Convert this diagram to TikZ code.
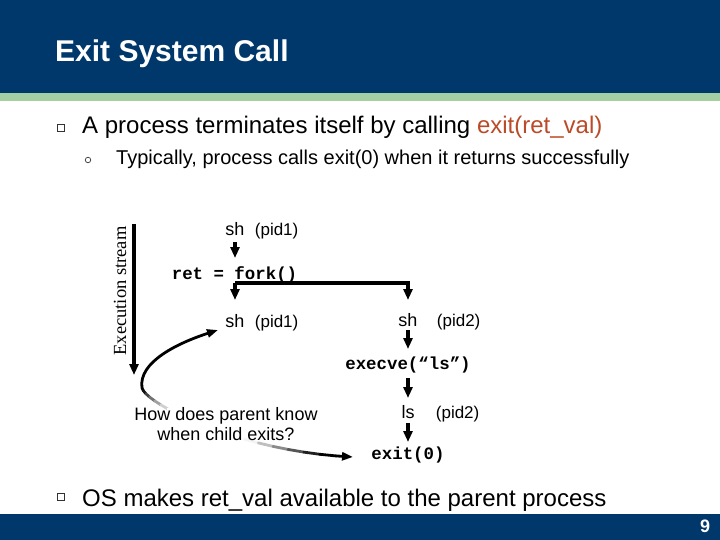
\documentclass[tikz,border=0pt]{standalone}
\usepackage{fontspec}
\setmainfont{Liberation Sans}
\newfontfamily\codefont{Liberation Mono}
\newfontfamily\streamfont{Liberation Serif}
\usepackage{xcolor}
\usepackage{tikz}
\usetikzlibrary{arrows.meta,positioning,calc}
\definecolor{navy}{HTML}{00386B}
\definecolor{mint}{HTML}{A3CFA3}
\definecolor{rust}{HTML}{BB4A28}
\newcommand{\fsz}[1]{\fontsize{#1}{#1}\selectfont}

\begin{document}
\begin{tikzpicture}[x=1pt, y=-1pt, every node/.style={inner sep=0pt},
    flow/.style={line width=3.2pt, -{Triangle[width=9pt,length=11pt]}},
    curvy/.style={line width=2.8pt, line cap=round},
    bulletbox/.style={draw=black!80, line width=0.8pt, minimum size=6.5pt},
    code/.style={font=\codefont\bfseries\fsz{17.4}}]
        \useasboundingbox (0,0) rectangle (720,540);

        % title bar
        \fill[navy] (0,0) rectangle (720,93);
        \fill[mint] (0,93) rectangle (720,101);
        \node[anchor=base west, text=white, font=\fsz{30}\bfseries] (title) at (55,62)
          {Exit System Call};

        % bullets
        \node[bulletbox] (b1) at (61,128) {};
        \node[anchor=base west, font=\fsz{24}] (t1) at (82,134)
          {A process terminates itself by calling \textcolor{rust}{exit(ret\_val)}};
        \node[circle, draw=black!80, line width=0.7pt, minimum size=5.5pt] (b2) at (88,160) {};
        \node[anchor=base west, font=\fsz{20}] (t2) at (116,165)
          {Typically, process calls exit(0) when it returns successfully};
        \node[bulletbox] (b3) at (61,497) {};
        \node[anchor=base west, font=\fsz{24}] (t3) at (82,506)
          {OS makes ret\_val available to the parent process};

        % footer
        \fill[navy] (0,514) rectangle (720,540);
        \node[text=white, font=\fsz{18}\bfseries] (page) at (705,526) {9};

        % execution stream
        \node[rotate=90, font=\streamfont\fsz{18.5}] (stream) at (120,291) {Execution stream};
        \coordinate (streamtop) at (134,224);
        \coordinate (streamend) at (134,375);
        \draw[flow] (streamtop) -- (streamend);

        % parent
        \node[font=\fsz{18}] (sh1) at (235,229.5) {sh};
        \node[anchor=base west, font=\fsz{17}] (pid1a) at ([xshift=10pt]sh1.base east) {(pid1)};
        \node[code] (fork) at (234.5,275) {ret = fork()};
        \coordinate (split) at (235,283);
        \node[font=\fsz{18}] (sh2) at (235,321) {sh};
        \node[anchor=base west, font=\fsz{17}] (pid1b) at ([xshift=10pt]sh2.base east) {(pid1)};

        % child
        \node[font=\fsz{18}] (shc) at (408,320) {sh};
        \node[anchor=base west, font=\fsz{17}] (pid2a) at ([xshift=19pt]shc.base east) {(pid2)};
        \node[code] (execve) at (408,365) {execve(“ls”)};
        \node[font=\fsz{18}] (ls) at (408,412) {ls};
        \node[anchor=base west, font=\fsz{17}] (pid2b) at ([xshift=21pt]ls.base east) {(pid2)};
        \node[code] (exit) at (408,455) {exit(0)};

        \draw[flow, shorten <=12.5pt, shorten >=17pt] (sh1.center) -- (sh1.center |- fork.center);
        \draw[line width=3.2pt] (split) -- (split -| shc.center);
        \draw[flow, shorten >=21pt] (split) -- (sh2.center);
        \draw[flow, shorten >=20pt] (split) -| (shc.center);
        \draw[flow, shorten <=10pt, shorten >=16pt] (shc.center) -- (execve.center);
        \draw[flow, shorten <=13pt, shorten >=14pt] (execve.center) -- (ls.center);
        \draw[flow, shorten <=11pt, shorten >=13pt] (ls.center) -- (exit.center);

        % how does the parent hear of it
        \coordinate (bend) at (142,388);
        \draw[curvy, -{Triangle[width=8pt,length=11pt]}] (bend)
          .. controls (138,362) and (178,343) .. ([shift={(-17,9)}]sh2.center);
        \path (bend) .. controls (146,404) and (240,452) .. ([shift={(-55,2)}]exit.center)
          \foreach \k [evaluate=\k as \p using \k/20] in {0,...,20} {coordinate[pos=\p] (g\k)};
        \foreach \k in {0,...,18}{
          \pgfmathtruncatemacro\nxt{\k+1}
          \pgfmathsetmacro\w{100*max(0,min(1,min((\k/20-0.03)/0.27,(0.88-\k/20)/0.24)))}
          \draw[curvy, white!\w!black] (g\k) -- (g\nxt);
        }
        \draw[curvy, -{Triangle[width=8pt,length=11pt]}] (g19) -- (g20);
        \node[align=center, font=\fontsize{18}{20}\selectfont] (ask) at (226,424)
          {How does parent know\\when child exits?};
      \end{tikzpicture}
\end{document}
